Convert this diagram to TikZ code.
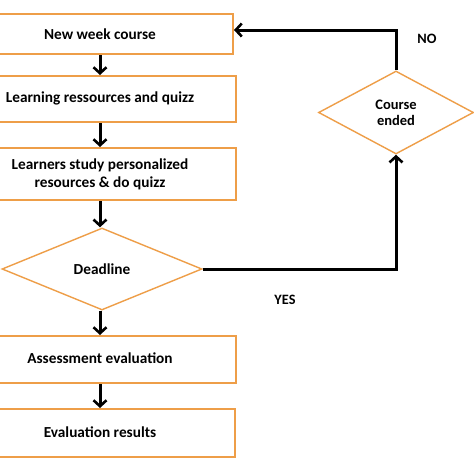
\documentclass[tikz,border=0pt]{standalone}
\usepackage{fontspec}
\setmainfont{Carlito}
\usetikzlibrary{shapes.geometric,arrows.meta}
\definecolor{boxorange}{RGB}{238,158,72}
\begin{document}
\begin{tikzpicture}[x=1pt,y=-1pt,
  box/.style={draw=boxorange,line width=2pt,rectangle,inner sep=0pt,fill=white},
  txt/.style={font=\bfseries\fontsize{15.3}{18}\selectfont,align=center,inner sep=0pt},
  dia/.style={draw=boxorange,line width=1.4pt,diamond,inner sep=0pt,font=\bfseries\fontsize{15.3}{18}\selectfont,align=center},
  conn/.style={draw=black,line width=3pt,-{Straight Barb[length=6pt,width=13pt,line width=2.6pt]}},
  lbl/.style={font=\bfseries\fontsize{14.3}{17}\selectfont}]
\useasboundingbox (0,0) rectangle (474,474);
\fill[white] (0,0) rectangle (474,474);
\clip (0,0) rectangle (474,474);
\node[box,minimum width=268pt,minimum height=40pt] (b1) at (99,34) {};
\node[box,minimum width=271pt,minimum height=46pt] (b2) at (100.5,99) {};
\node[box,minimum width=271pt,minimum height=52pt] (b3) at (100.5,174) {};
\node[box,minimum width=271pt,minimum height=47pt] (b4) at (100.5,359.5) {};
\node[box,minimum width=270pt,minimum height=48pt] (b5) at (100,433) {};
\node[txt] (t1) at (100,34) {New week course};
\node[txt] (t2) at (100,98) {Learning ressources and quizz};
\node[txt] (t3) at (100,174) {Learners study personalized\\resources \& do quizz};
\node[txt] (t4) at (100,358) {Assessment evaluation};
\node[txt] (t5) at (100,432) {Evaluation results};
\node[dia,minimum width=200pt,minimum height=82pt] (dl) at (102,269) {Deadline};
\node[dia,minimum width=155pt,minimum height=83pt,font=\bfseries\fontsize{14.5}{16}\selectfont] (ce) at (396,112.5) {Course\\ended};
\draw[conn] (b1.south -| t1) -- (b2.north -| t1);
\draw[conn] (b2.south -| t1) -- (b3.north -| t1);
\draw[conn] (b3.south -| t1) -- (dl.north -| t1);
\draw[conn] (dl.south -| t1) -- (b4.north -| t1);
\draw[conn] (b4.south -| t1) -- (b5.north -| t1);
\draw[conn] (dl.east) -| (ce.south);
\coordinate (top) at (396,30);
\draw[conn] (ce.north) -- (top) -- (top -| b1.east);
\node[lbl] (no) at (427,39) {NO};
\node[lbl] (yes) at (285,300) {YES};
\end{tikzpicture}
\end{document}
